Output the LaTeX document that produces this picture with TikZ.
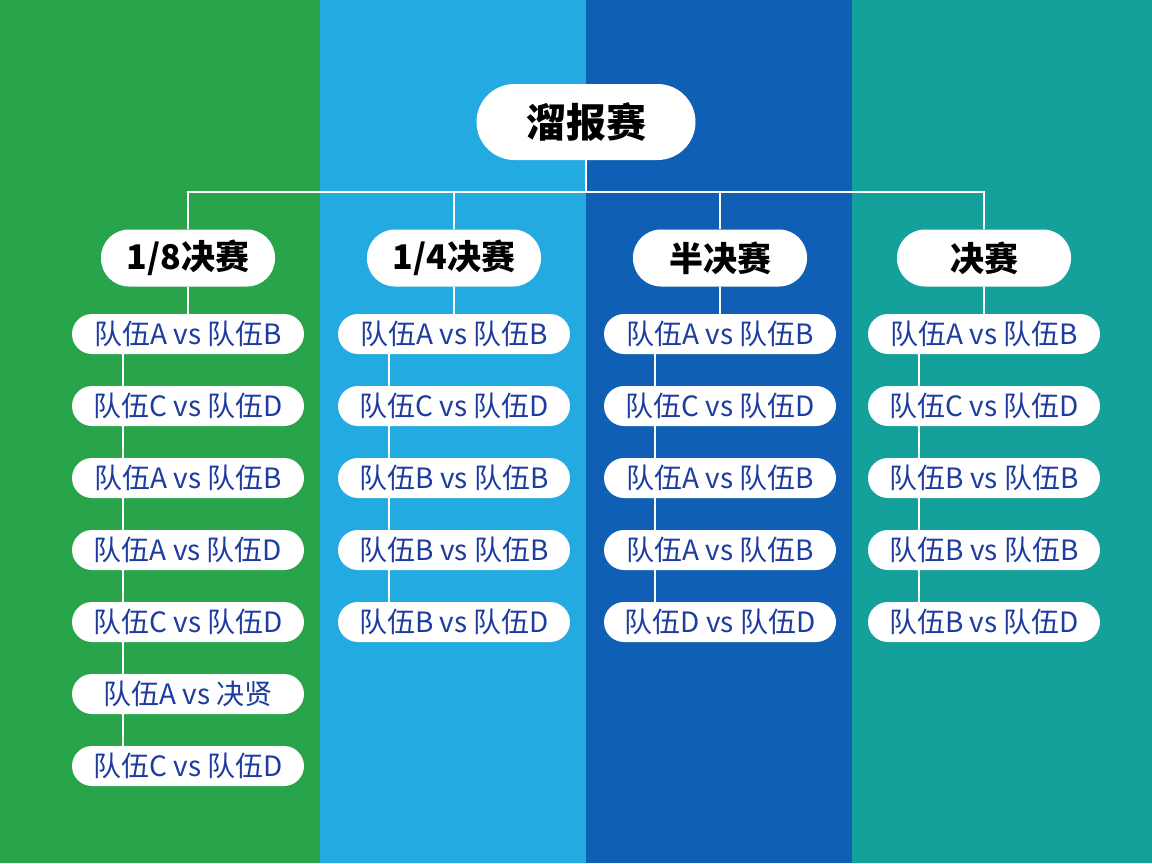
\documentclass[tikz,border=0pt]{standalone}
\usepackage{fontspec}
\setmainfont{Noto Sans CJK SC}
\usepackage{tikz}
\usetikzlibrary{positioning}
\pgfdeclarelayer{backdrop}
\pgfdeclarelayer{background}
\pgfsetlayers{backdrop,background,main}
\definecolor{colgreen}{HTML}{28A54B}
\definecolor{colsky}{HTML}{23AAE1}
\definecolor{colnavy}{HTML}{0F5FB4}
\definecolor{colteal}{HTML}{14A09B}
\definecolor{teamblue}{HTML}{1E3CA0}

\begin{document}
\begin{tikzpicture}[x = 1pt, y = 1pt, node distance = 72pt, on grid,
  rootbox/.style = {fill = white, rounded corners = 38pt, minimum width = 219pt, minimum height = 76pt, inner sep = 0pt, font = \fontsize{40}{46}\selectfont\bfseries},
  roundbox/.style = {fill = white, rounded corners = 28pt, minimum width = 174pt, minimum height = 57pt, inner sep = 0pt, font = \fontsize{34}{40}\selectfont\bfseries},
  matchbox/.style = {fill = white, rounded corners = 20pt, minimum width = 232pt, minimum height = 40pt, inner sep = 0pt, text = teamblue, font = \fontsize{28}{32}\selectfont},
  link/.style = {draw = white, line width = 2pt}]
	\useasboundingbox (0,0) rectangle (1152,-863);
	\begin{pgfonlayer}{backdrop}
		\fill[colgreen] (0,0) rectangle (320,-863);
		\fill[colsky] (320,0) rectangle (586,-863);
		\fill[colnavy] (586,0) rectangle (852,-863);
		\fill[colteal] (852,0) rectangle (1152,-863);
	\end{pgfonlayer}

	\node[rootbox] (root) at (586,-122) {溜报赛};
	\node[roundbox] (h2) [below left = 136pt and 132pt of root] {1/4决赛};
	\node[roundbox] (h3) [below right = 136pt and 134pt of root] {半决赛};
	\node[roundbox] (h1) [left = 266pt of h2] {1/8决赛};
	\node[roundbox] (h4) [right = 264pt of h3] {决赛};

	% 1/8
	\node[matchbox] (c1a) [below = 76pt of h1] {队伍A vs 队伍B};
	\node[matchbox] (c1b) [below = of c1a] {队伍C vs 队伍D};
	\node[matchbox] (c1c) [below = of c1b] {队伍A vs 队伍B};
	\node[matchbox] (c1d) [below = of c1c] {队伍A vs 队伍D};
	\node[matchbox] (c1e) [below = of c1d] {队伍C vs 队伍D};
	\node[matchbox] (c1f) [below = of c1e] {队伍A vs 决贤};
	\node[matchbox] (c1g) [below = of c1f] {队伍C vs 队伍D};
	% 1/4
	\node[matchbox] (c2a) [below = 76pt of h2] {队伍A vs 队伍B};
	\node[matchbox] (c2b) [below = of c2a] {队伍C vs 队伍D};
	\node[matchbox] (c2c) [below = of c2b] {队伍B vs 队伍B};
	\node[matchbox] (c2d) [below = of c2c] {队伍B vs 队伍B};
	\node[matchbox] (c2e) [below = of c2d] {队伍B vs 队伍D};
	% semi
	\node[matchbox] (c3a) [below = 76pt of h3] {队伍A vs 队伍B};
	\node[matchbox] (c3b) [below = of c3a] {队伍C vs 队伍D};
	\node[matchbox] (c3c) [below = of c3b] {队伍A vs 队伍B};
	\node[matchbox] (c3d) [below = of c3c] {队伍A vs 队伍B};
	\node[matchbox] (c3e) [below = of c3d] {队伍D vs 队伍D};
	% final
	\node[matchbox] (c4a) [below = 76pt of h4] {队伍A vs 队伍B};
	\node[matchbox] (c4b) [below = of c4a] {队伍C vs 队伍D};
	\node[matchbox] (c4c) [below = of c4b] {队伍B vs 队伍B};
	\node[matchbox] (c4d) [below = of c4c] {队伍B vs 队伍B};
	\node[matchbox] (c4e) [below = of c4d] {队伍B vs 队伍D};

	\coordinate (bus) at ([yshift = -32pt]root.south);
	\begin{pgfonlayer}{background}
		\path[link] (root.south) -- (bus);
		\path[link] (h1.north) |- (bus) -| (h4.north);
		\path[link] (h2.north) -- (h2.north |- bus);
		\path[link] (h3.north) -- (h3.north |- bus);
		\path[link] (h1) -- (c1a);
		\path[link] (h2) -- (c2a);
		\path[link] (h3) -- (c3a);
		\path[link] (h4) -- (c4a);
		\path[link] ([xshift = -65pt]c1a.center) -- ([xshift = -65pt]c1g.center);
		\path[link] ([xshift = -65pt]c2a.center) -- ([xshift = -65pt]c2e.center);
		\path[link] ([xshift = -65pt]c3a.center) -- ([xshift = -65pt]c3e.center);
		\path[link] ([xshift = -65pt]c4a.center) -- ([xshift = -65pt]c4e.center);
	\end{pgfonlayer}
\end{tikzpicture}
\end{document}
